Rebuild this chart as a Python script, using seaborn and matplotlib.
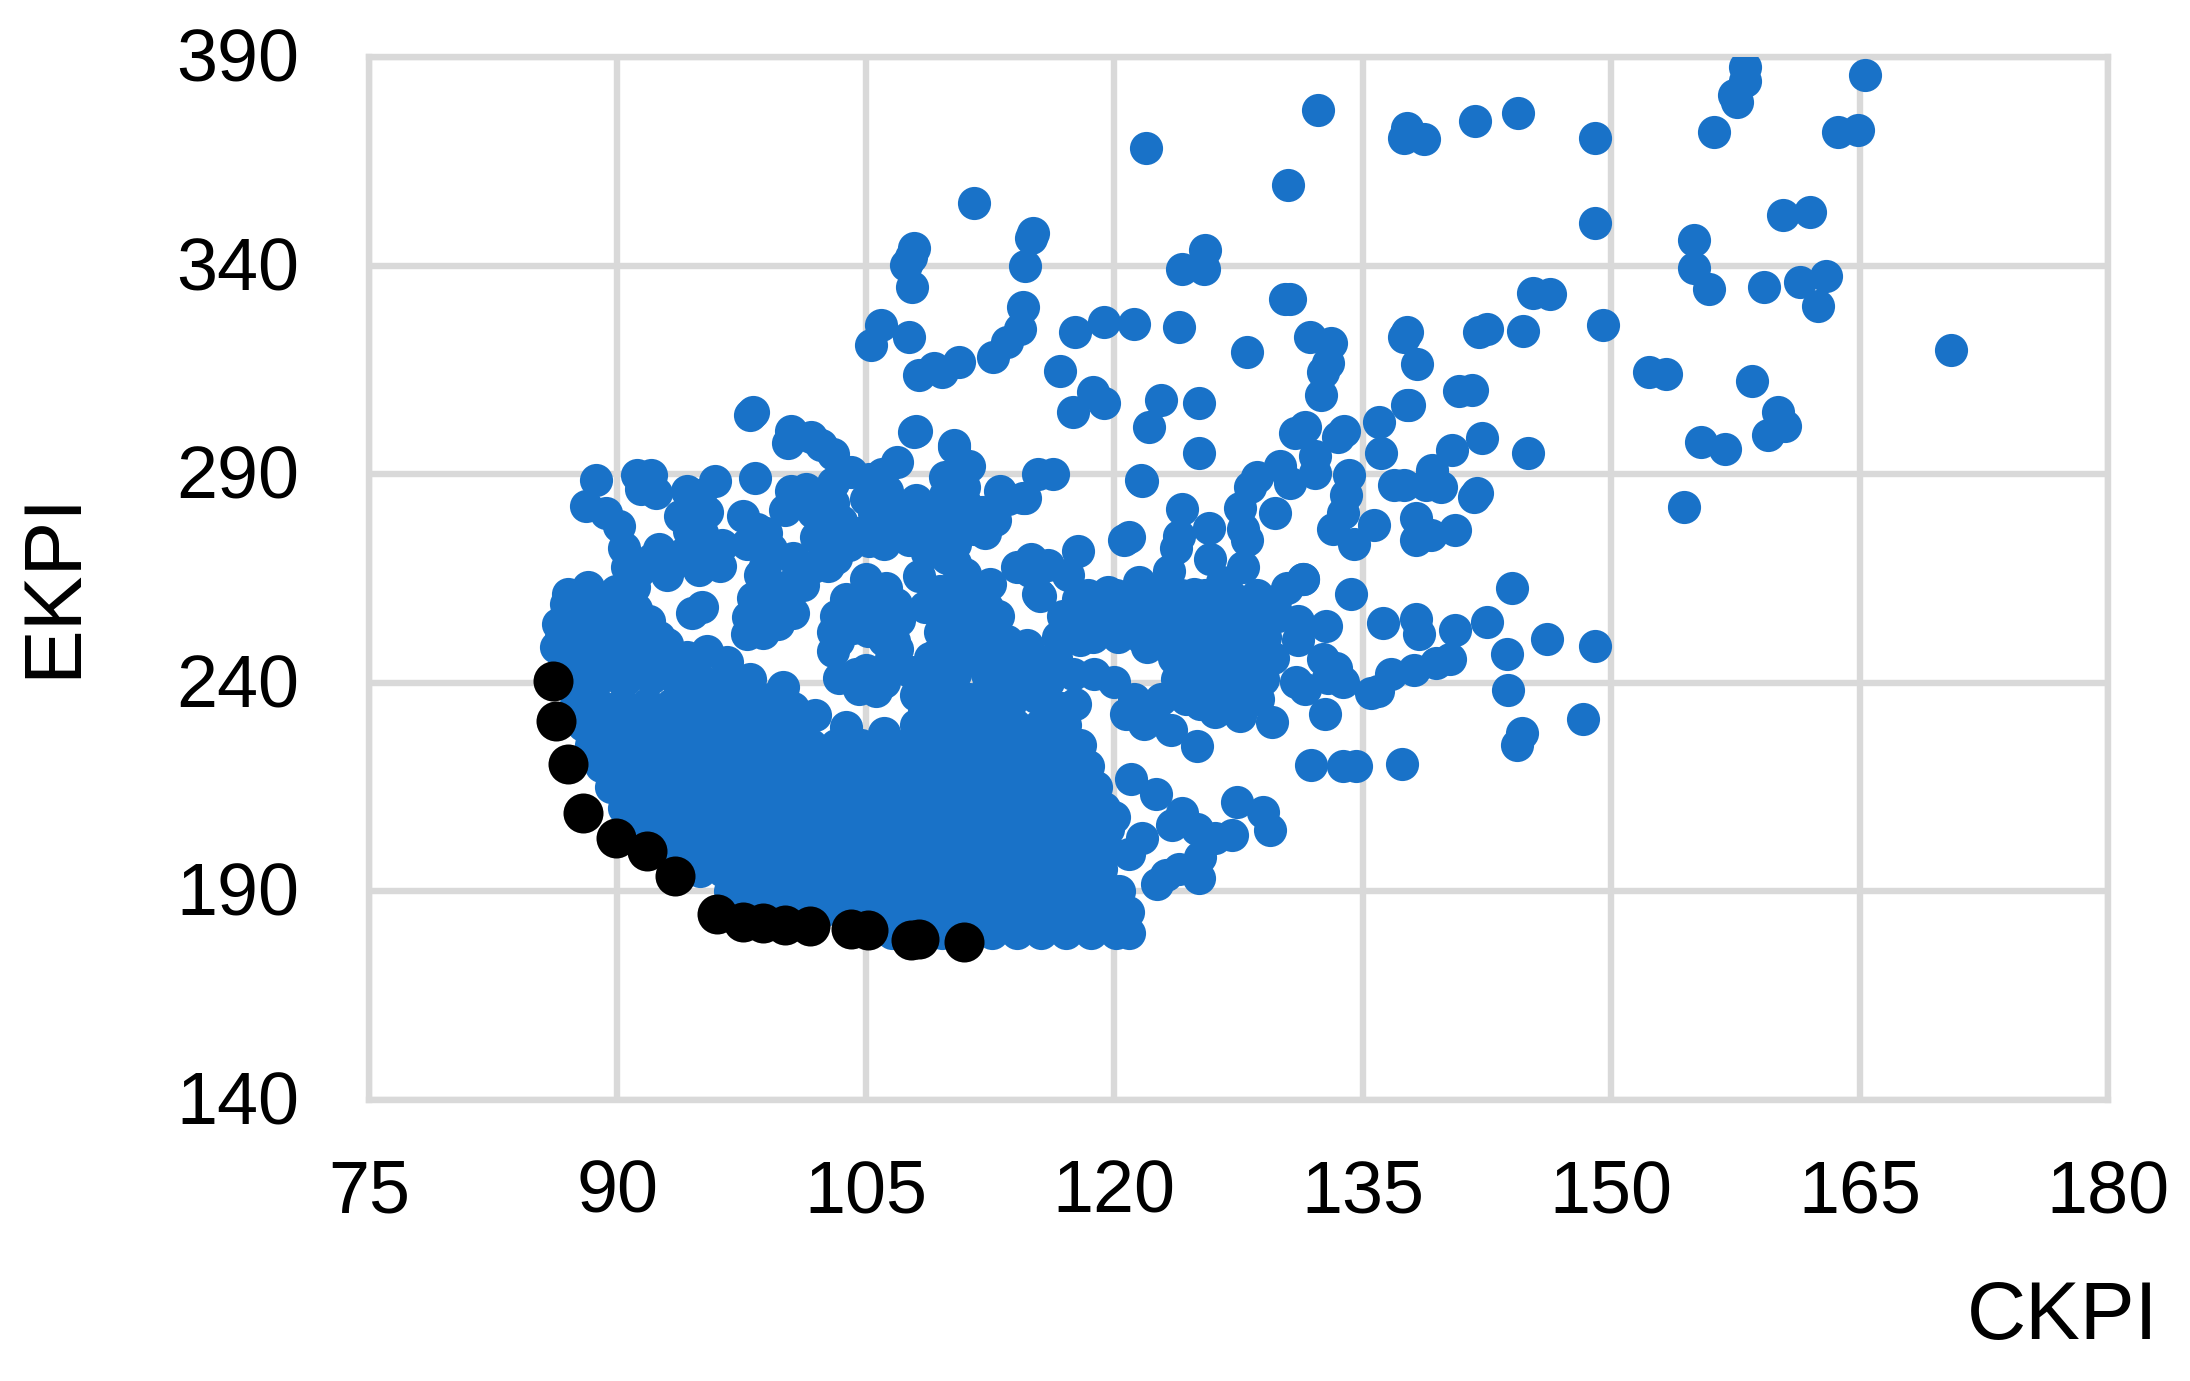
import pandas as pd
import seaborn as sns
import matplotlib.pyplot as plt
from matplotlib.transforms import ScaledTranslation

# points, outer scatter first
ckpi_top = [158.1, 158.1, 157.4, 157.6, 165.3, 156.2, 163.7, 164.9, 149.0, 144.4, 141.8, 132.3, 137.7, 137.5, 138.7, 121.9,
            130.5, 149.0, 160.4, 162.0, 155.0, 155.0, 155.9, 159.2, 161.4, 163.0, 162.5, 170.5, 145.3, 146.3, 149.5, 144.7,
            142.5, 142.0, 137.7, 137.5, 138.3, 152.3, 153.3, 158.5, 140.8, 141.6, 137.7, 160.1, 160.5, 159.5, 155.4, 156.9,
            154.4, 111.5, 115.1, 115.0, 114.6, 107.9, 107.7, 107.4, 107.8, 124.1, 125.4, 125.5, 130.3, 130.6, 114.5, 114.3,
            113.5, 112.7, 105.9, 105.3, 107.6, 108.2, 109.1, 109.6, 110.6, 117.6, 119.4, 121.2, 123.9, 128.0, 131.8, 133.1,
            132.9, 132.6, 132.5, 116.7, 118.7, 119.4, 117.5, 122.8, 125.1, 122.1, 125.1, 121.6, 98.0, 98.2, 108.0, 110.3]
ekpi_top = [387.7, 384.3, 381.0, 379.3, 385.6, 372.0, 372.0, 372.6, 370.6, 376.6, 374.6, 377.3, 373.0, 370.6, 370.3, 368.2,
            359.2, 350.2, 352.2, 352.8, 346.2, 339.5, 334.4, 334.8, 336.0, 337.5, 330.4, 319.7, 333.4, 333.1, 325.7, 324.4,
            324.7, 324.0, 324.0, 323.0, 316.4, 314.4, 314.0, 312.4, 310.0, 310.3, 306.7, 305.0, 301.6, 299.3, 297.6, 296.0,
            282.2, 354.9, 347.8, 346.5, 339.8, 344.1, 342.0, 340.1, 334.8, 339.1, 339.1, 343.8, 332.1, 332.0, 330.0, 324.7,
            321.7, 318.0, 325.7, 321.0, 323.0, 313.7, 315.4, 314.4, 317.0, 324.0, 326.4, 326.0, 325.4, 319.4, 323.0, 321.4,
            316.7, 314.4, 309.0, 314.7, 309.7, 307.0, 305.0, 307.7, 307.0, 301.3, 295.0, 288.6, 304.3, 304.8, 300.3, 296.6]

ckpi_right = [131.5, 130.9, 132.1, 133.5, 133.9, 132.1, 134.2, 134.0, 133.2, 134.5, 135.7, 133.8, 136.0, 136.1, 137.8, 136.9,
              137.5, 139.2, 138.8, 139.7, 140.4, 142.2, 141.9, 141.7, 145.0, 138.2, 138.2, 139.1, 140.6, 131.4, 134.3, 144.0,
              136.2, 138.2, 138.4, 140.6, 142.5, 146.1, 149.0, 143.7, 143.8, 148.3, 144.6, 144.3, 140.3, 139.4, 138.1, 136.7,
              135.9, 135.5, 132.6, 133.4, 133.8, 132.7, 131.0, 131.5, 132.9, 131.1, 131.1, 132.8, 129.2, 129.5, 127.6, 126.1,
              123.4, 125.0, 122.5, 120.7, 121.8, 131.9, 133.8, 134.6, 137.4, 121.0, 122.5, 124.1, 123.5, 127.4, 129.0, 129.4,
              125.0, 121.7, 120.9, 119.2, 120.0, 125.1, 122.6, 123.1, 125.2, 127.1, 126.1, 123.9, 120.6, 120.4, 127.6, 128.2,
              128.6, 130.0, 130.6, 129.7, 127.8, 128.0, 127.8, 125.8, 124.1, 125.7, 123.9, 123.7, 120.6, 120.9, 117.8, 121.7,
              116.3, 114.6, 115.0, 116.0, 114.1, 117.2, 115.5, 117.8, 119.6, 121.5, 123.3, 131.4]
ekpi_right = [301.2, 299.8, 290.2, 298.9, 300.3, 294.3, 289.7, 285.1, 276.9, 273.2, 277.8, 280.6, 302.5, 295.2, 306.7, 287.4,
              287.4, 291.1, 287.4, 287.0, 295.9, 298.6, 285.6, 284.5, 295.2, 279.5, 274.2, 275.5, 276.7, 265.0, 261.2, 262.7,
              254.4, 255.4, 251.7, 252.6, 254.5, 250.5, 248.8, 247.0, 238.3, 231.4, 227.9, 225.2, 245.8, 244.8, 243.0, 242.1,
              238.0, 237.5, 245.8, 243.5, 240.3, 232.5, 240.3, 238.4, 241.2, 254.9, 250.3, 253.6, 246.7, 230.7, 232.0, 233.0,
              228.8, 224.9, 234.8, 232.5, 230.2, 220.3, 220.0, 220.0, 220.6, 216.9, 213.4, 208.7, 206.0, 211.4, 209.0, 204.6,
              205.0, 202.7, 199.0, 195.4, 207.8, 193.1, 191.7, 194.0, 198.2, 203.6, 202.7, 195.4, 185.3, 180.8, 281.9, 287.0,
              289.3, 292.0, 287.9, 280.6, 276.9, 274.2, 267.7, 269.6, 281.7, 277.1, 275.1, 272.3, 274.2, 275.0, 271.7, 288.4,
              290.0, 284.4, 269.6, 268.2, 267.7, 265.9, 260.9, 260.0, 261.8, 264.1, 266.8, 265.0]

# looser patches above the dense band
ckpi_mid = [100.5, 101.7, 102.3, 103.0, 100.3, 88.7, 88.1, 89.3, 90.1, 90.4, 90.6, 91.2, 92.0, 91.4, 92.3, 95.9,
            95.0, 94.7, 94.3, 95.1, 95.8, 93.4, 92.1, 93.0, 91.3, 98.3, 106.9, 105.2, 104.1, 107.9, 110.3, 111.2,
            109.8, 110.9, 113.1, 114.5, 108.0, 101.4, 100.1, 98.4, 97.8, 99.0, 98.6, 98.2, 97.9, 97.8, 100.6, 100.3,
            101.8, 102.5, 103.5, 105.5, 106.1, 107.6, 104.6, 102.0, 107.0, 109.3, 111.5, 110.4, 108.2, 110.4, 112.5, 112.3,
            108.6, 110.2, 110.4, 106.2, 105.1, 104.4, 106.1, 103.0, 103.0, 104.2, 106.1, 103.4, 104.6, 106.1, 107.7, 104.4,
            110.6, 109.5, 111.7, 110.4, 110.8, 113.8, 114.5, 114.9, 114.3, 115.4, 115.4, 87.0, 87.9, 88.7, 86.4, 86.3,
            87.4, 88.2, 89.3, 91.1, 93.0, 91.1, 91.9, 91.3, 93.4, 95.1, 94.5, 95.4, 96.6, 96.4, 100.0, 98.5,
            94.7, 103.8, 106.1, 123.9, 126.1, 127.1, 128.2, 125.2, 126.9, 128.2, 126.1, 124.3, 128.2, 126.5, 125.2, 129.3,
            127.8, 129.7, 130.4, 117.9, 117.9, 119.4, 121.3, 122.0, 118.8, 120.0, 117.5, 116.0, 113.8, 115.0, 115.3, 116.8,
            122.6, 120.7, 124.8, 126.5, 123.1, 123.5, 123.9, 124.8, 125.4, 127.1, 126.5, 108.9, 112.4, 88.6, 90.2, 92.8]
ekpi_mid = [300.3, 298.9, 297.0, 294.8, 297.5, 288.6, 282.4, 280.6, 277.6, 272.3, 267.7, 289.7, 289.7, 286.5, 285.6, 288.4,
            285.1, 281.5, 276.4, 276.0, 269.6, 268.7, 269.6, 265.9, 266.8, 289.0, 293.0, 288.8, 290.6, 300.0, 296.9, 292.0,
            289.3, 287.0, 286.0, 284.2, 283.8, 286.5, 281.5, 276.9, 273.2, 276.0, 265.9, 260.4, 255.8, 251.7, 256.8, 263.2,
            267.7, 273.2, 278.7, 280.6, 273.2, 274.2, 276.0, 275.0, 281.5, 281.5, 276.9, 273.2, 265.5, 263.2, 263.6, 258.1,
            258.1, 256.8, 268.7, 262.7, 262.3, 258.6, 255.8, 252.2, 247.6, 253.1, 250.3, 241.2, 238.4, 240.3, 242.6, 242.1,
            249.4, 252.2, 251.3, 242.1, 245.8, 247.6, 245.8, 266.8, 267.7, 261.3, 290.0, 261.3, 258.6, 257.7, 254.0, 248.5,
            250.1, 248.3, 250.3, 253.1, 249.4, 257.7, 254.9, 247.6, 245.8, 258.1, 256.8, 247.6, 244.9, 240.3, 238.9, 236.2,
            236.6, 229.3, 227.9, 255.8, 259.5, 255.8, 259.5, 248.5, 248.5, 243.0, 239.4, 241.2, 236.6, 233.9, 234.8, 246.7,
            253.1, 259.5, 262.7, 255.8, 250.3, 254.0, 254.0, 248.5, 242.1, 240.3, 242.1, 240.3, 247.6, 246.7, 236.6, 233.9,
            257.7, 258.6, 261.3, 264.1, 254.0, 248.5, 240.3, 254.0, 243.0, 242.1, 253.1, 246.0, 239.0, 243.5, 241.0, 243.0]

# patches that close up the blobs between 240 and 290
ckpi_fill = [87.6, 89.0, 90.5, 92.0, 93.5, 95.0, 86.8, 88.2, 89.7, 91.2, 92.7, 94.2, 86.6, 88.0, 89.5, 91.0,
             92.5, 87.0, 88.5, 90.0, 88.2, 86.9, 96.9, 98.0, 99.2, 100.6, 101.9,
             92.5, 94.0, 95.5, 96.2, 94.9, 93.8, 95.4, 94.2, 96.3, 91.0, 89.9,
             99.3, 100.6, 101.2, 102.7, 103.2, 104.0, 105.2, 106.5, 108.0, 108.7, 109.6, 110.7, 112.0, 112.8, 113.6, 105.0,
             106.3, 103.0, 101.8, 100.5, 103.0, 106.0, 98.9, 99.5, 98.5, 100.0, 99.7, 98.8, 97.6,
             109.8, 111.0, 112.2, 109.9, 111.0, 109.5, 111.2, 113.0, 111.0, 109.3, 111.0, 112.4, 112.3, 109.7, 111.2, 109.0,
             105.0, 103.8, 103.2, 106.8, 107.0, 106.7, 106.5, 105.6, 103.3, 106.9, 105.0, 105.1, 108.0, 108.5, 109.2,
             113.5, 115.5, 114.5, 113.0, 116.5, 112.4, 113.8, 114.7]
ekpi_fill = [241.0, 241.3, 240.8, 241.1, 241.2, 241.0, 246.0, 245.8, 246.1, 246.0, 245.7, 246.2, 251.0, 250.8, 251.2, 250.9,
             251.0, 256.0, 255.7, 256.1, 263.0, 258.9, 236.5, 241.0, 236.0, 234.0, 232.4,
             272.0, 271.0, 272.5, 268.0, 267.0, 280.0, 281.0, 286.0, 273.0, 263.0, 262.0,
             272.0, 270.0, 263.5, 268.0, 270.0, 273.0, 274.0, 276.0, 277.0, 271.0, 276.0, 279.0, 281.0, 279.0, 284.0, 284.0,
             286.0, 283.0, 281.0, 286.0, 288.0, 290.0, 268.0, 263.0, 258.0, 259.0, 254.0, 252.0, 280.0,
             285.0, 283.0, 276.0, 270.0, 266.0, 262.0, 260.0, 256.0, 255.0, 247.0, 246.0, 247.0, 242.0, 238.0, 236.0, 240.0,
             265.0, 260.0, 256.0, 259.0, 255.0, 250.0, 246.0, 238.0, 250.0, 248.0, 243.0, 252.5, 237.0, 233.0, 241.0,
             250.0, 243.0, 241.0, 238.0, 246.0, 252.0, 242.0, 249.0]

# cluster right of the band, one list of CKPI for each EKPI level
ekpi_cluster = [236, 241, 246, 251, 256, 261]
ckpi_236 = [121.2, 122.8, 124.3, 125.8, 127.3, 128.7]
ckpi_241 = [123.8, 125.2, 126.7, 128.1, 129.0]
ckpi_246 = [123.6, 124.9, 126.4, 127.9, 129.6]
ckpi_251 = [116.6, 118.7, 120.2, 121.6, 123.1, 124.6, 126.1, 127.6, 129.1]
ckpi_256 = [116.9, 118.3, 119.8, 121.1, 122.4, 123.9, 125.4, 126.9, 128.5, 129.9]
ckpi_261 = [118.4, 120.1, 122.5, 124.0, 125.5, 127.0, 128.6]

# dense band, one list of CKPI for each EKPI level
ekpi_levels = [180, 185, 190, 195, 200, 205, 210, 215, 220, 225, 230, 235]
ckpi_180 = [106.6, 108.1, 109.6, 111.1, 112.6, 114.1, 115.6, 117.1, 118.6, 120.1, 120.9]
ckpi_185 = [97.9, 99.3, 100.8, 102.3, 103.8, 105.3, 106.8, 108.3, 109.8, 111.3, 112.8, 114.3, 115.8, 117.3, 118.8, 120.3, 120.8]
ckpi_190 = [96.8, 98.1, 99.6, 101.1, 102.6, 104.1, 105.6, 107.1, 108.6, 110.1, 111.6, 113.1, 114.6, 116.1, 117.6, 119.1, 120.3]
ckpi_195 = [95.0, 96.4, 97.9, 99.4, 100.9, 102.4, 103.9, 105.4, 106.9, 108.4, 109.9, 111.4, 112.9, 114.4, 115.9, 117.4, 118.9]
ckpi_200 = [93.3, 94.6, 96.1, 97.6, 99.1, 100.6, 102.1, 103.6, 105.1, 106.6, 108.1, 109.6, 111.1, 112.6, 114.1, 115.6, 117.1, 118.6, 119.6]
ckpi_205 = [91.6, 93.0, 94.5, 96.0, 97.5, 99.0, 100.5, 102.0, 103.5, 105.0, 106.5, 108.0, 109.5, 111.0, 112.5, 114.0, 115.5, 117.0, 118.5, 119.6]
ckpi_210 = [90.4, 91.8, 93.3, 94.8, 96.3, 97.8, 99.3, 100.8, 102.3, 103.8, 105.3, 106.8, 108.3, 109.8, 111.3, 112.8, 114.3, 115.8, 117.3, 118.6, 119.4]
ckpi_215 = [89.6, 90.9, 92.4, 93.9, 95.4, 96.9, 98.4, 99.9, 101.4, 102.9, 104.4, 105.9, 107.4, 108.9, 110.4, 111.9, 113.4, 114.9, 116.4, 117.8, 118.9]
ckpi_220 = [89.0, 90.3, 91.8, 93.3, 94.8, 96.3, 97.8, 99.3, 100.8, 102.3, 103.8, 105.3, 106.8, 108.3, 109.8, 111.3, 112.8, 114.3, 115.8, 117.3, 118.4]
ckpi_225 = [88.4, 89.7, 91.2, 92.7, 94.2, 95.7, 97.2, 98.7, 100.2, 101.7, 103.2, 104.7, 106.0, 107.4, 108.9, 110.4, 111.9, 113.4, 114.9, 116.4, 117.9]
ckpi_230 = [87.9, 89.1, 90.6, 92.1, 93.6, 95.1, 96.6, 98.1, 99.6, 101.1, 108.0, 109.5, 111.0, 112.5, 114.0, 115.5, 117.0]
ckpi_235 = [87.5, 88.8, 90.3, 91.8, 93.3, 94.8, 96.3, 97.8, 99.3, 109.2, 110.7, 112.2, 113.7, 117.6]

# black front points
ckpi_front = [86.1, 86.3, 87.0, 87.9, 89.9, 91.8, 93.5, 96.0, 97.6, 98.8, 100.1, 101.6, 104.1, 105.1, 107.7, 108.2, 110.9]
ekpi_front = [240.5, 230.8, 220.6, 208.7, 202.9, 199.7, 193.6, 184.7, 182.6, 182.4, 181.9, 181.7, 181.0, 180.8, 178.3, 178.5, 177.8]

x_ticks = [75, 90, 105, 120, 135, 150, 165, 180]
y_ticks = [140, 190, 240, 290, 340, 390]

dense_rows = [ckpi_180, ckpi_185, ckpi_190, ckpi_195, ckpi_200, ckpi_205,
              ckpi_210, ckpi_215, ckpi_220, ckpi_225, ckpi_230, ckpi_235]
cluster_rows = [ckpi_236, ckpi_241, ckpi_246, ckpi_251, ckpi_256, ckpi_261]
dense = pd.concat([pd.DataFrame({'CKPI': row, 'EKPI': level}) for row, level in zip(dense_rows, ekpi_levels)])
cluster = pd.concat([pd.DataFrame({'CKPI': row, 'EKPI': level}) for row, level in zip(cluster_rows, ekpi_cluster)])
blue = pd.concat([
    pd.DataFrame({'CKPI': ckpi_top, 'EKPI': ekpi_top}),
    pd.DataFrame({'CKPI': ckpi_right, 'EKPI': ekpi_right}),
    pd.DataFrame({'CKPI': ckpi_mid, 'EKPI': ekpi_mid}),
    pd.DataFrame({'CKPI': ckpi_fill, 'EKPI': ekpi_fill}),
    cluster,
    dense,
])
front = pd.DataFrame({'CKPI': ckpi_front, 'EKPI': ekpi_front})

sns.set_style('white')
plt.rcParams['font.family'] = ['Liberation Sans', 'DejaVu Sans']

fig = plt.figure(figsize=(21.9, 13.81), dpi=100)
ax = fig.add_axes([369 / 2190, 1 - 1100 / 1381, 1739 / 2190, 1043 / 1381])

sns.scatterplot(data=blue, x='CKPI', y='EKPI', color='#1972C8', s=570, linewidth=0, ax=ax, zorder=3)
sns.scatterplot(data=front, x='CKPI', y='EKPI', color='black', s=830, linewidth=0, ax=ax, zorder=4)

ax.set_xlim(75, 180)
ax.set_ylim(140, 390)
ax.set_xticks(x_ticks)
ax.set_yticks(y_ticks)
ax.set_axisbelow(True)
ax.grid(True, color='#D9D9D9', linewidth=4.6)
for spine in ax.spines.values():
    spine.set_color('#D9D9D9')
    spine.set_linewidth(4.6)
ax.tick_params(axis='both', length=0, labelsize=53, labelcolor='black')
ax.tick_params(axis='x', pad=42)
ax.tick_params(axis='y', pad=50)
# nudge the y labels down a little
nudge = ScaledTranslation(0, -5 / 100, fig.dpi_scale_trans)
for label in ax.get_yticklabels():
    label.set_verticalalignment('center')
    label.set_transform(label.get_transform() + nudge)

ax.set_xlabel('')
ax.set_ylabel('')
fig.text(2158 / 2190, 1 - 1318 / 1381, 'CKPI', fontsize=59, color='black', ha='right', va='center')
fig.text(54 / 2190, 1 - 584 / 1381, 'EKPI', fontsize=59, color='black', rotation=90, ha='center', va='center')

fig.savefig('out.png', dpi=100)
